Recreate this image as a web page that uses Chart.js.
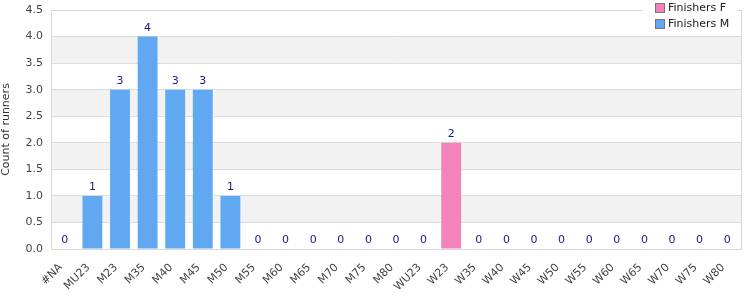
<!DOCTYPE html>
<html><head><meta charset="utf-8">
<script src="https://cdn.jsdelivr.net/npm/chart.js@4/dist/chart.umd.min.js"></script>
<style>html,body{margin:0;padding:0;background:#fff}#wrap{width:750px;height:300px}</style>
</head><body><div id="wrap"><canvas id="c" width="750" height="300"></canvas></div>
<script>
const categories = ['#NA','MU23','M23','M35','M40','M45','M50','M55','M60','M65','M70','M75','M80','WU23','W23','W35','W40','W45','W50','W55','W60','W65','W70','W75','W80'];
const finishersF = [0,0,0,0,0,0,0,0,0,0,0,0,0,0,2,0,0,0,0,0,0,0,0,0,0];
const finishersM = [0,1,3,4,3,3,1,0,0,0,0,0,0,0,0,0,0,0,0,0,0,0,0,0,0];
const yTicks = [0,0.5,1,1.5,2,2.5,3,3.5,4,4.5];
const FONT = 'DejaVu Sans, Verdana, sans-serif';

const bandsPlugin = {
  id: 'bands',
  beforeDraw(chart) {
    const {ctx, chartArea: a, scales: {y}} = chart;
    ctx.save();
    ctx.fillStyle = '#f2f2f2';
    for (let i = 0; i < yTicks.length - 1; i++) {
      if (i % 2 === 1) {
        const t = y.getPixelForValue(yTicks[i + 1]);
        const b = y.getPixelForValue(yTicks[i]);
        ctx.fillRect(a.left, t, a.right - a.left, b - t);
      }
    }
    ctx.restore();
  },
  afterDraw(chart) {
    const {ctx, chartArea: a} = chart;
    ctx.save();
    ctx.strokeStyle = '#d9d9d9';
    ctx.lineWidth = 1;
    ctx.beginPath();
    ctx.moveTo(Math.round(a.right) + 0.5, a.top);
    ctx.lineTo(Math.round(a.right) + 0.5, a.bottom);
    ctx.moveTo(a.left, Math.round(a.top) + 0.5);
    ctx.lineTo(a.right, Math.round(a.top) + 0.5);
    ctx.stroke();
    // legend
    const items = [...chart.data.datasets].reverse();
    ctx.fillStyle = '#fff';
    ctx.fillRect(643, 0, 94, 34);
    ctx.font = '11px ' + FONT;
    ctx.textBaseline = 'middle';
    items.forEach((ds, i) => {
      const yy = 8 + i * 16;
      ctx.fillStyle = ds.backgroundColor;
      ctx.fillRect(655.5, yy - 4.5, 9, 9);
      ctx.strokeStyle = '#777';
      ctx.strokeRect(655.5, yy - 4.5, 9, 9);
      ctx.fillStyle = '#222';
      ctx.fillText(ds.label, 668, yy);
    });
    ctx.restore();
  },
  afterDatasetsDraw(chart) {
    const {ctx, scales: {x, y}} = chart;
    ctx.save();
    ctx.font = '11px ' + FONT;
    ctx.fillStyle = '#1a1a88';
    ctx.textAlign = 'center';
    ctx.textBaseline = 'bottom';
    categories.forEach((c, i) => {
      const tot = finishersF[i] + finishersM[i];
      ctx.fillText(String(tot), x.getPixelForValue(i), y.getPixelForValue(tot) - 3);
    });
    ctx.restore();
  }
};

new Chart(document.getElementById('c'), {
  type: 'bar',
  data: {
    labels: categories,
    datasets: [
      {label: 'Finishers M', data: finishersM, backgroundColor: '#60a8f2', barPercentage: 0.72, categoryPercentage: 1},
      {label: 'Finishers F', data: finishersF, backgroundColor: '#f283bb', barPercentage: 0.72, categoryPercentage: 1}
    ]
  },
  options: {
    responsive: false,
    animation: false,
    layout: {padding: {left: 0, right: 9, top: 10, bottom: 0}},
    plugins: {legend: {display: false}, tooltip: {enabled: false}},
    scales: {
      x: {
        stacked: true,
        grid: {display: false, drawTicks: false},
        border: {color: '#d9d9d9'},
        ticks: {maxRotation: 45, minRotation: 45, autoSkip: false, color: '#444', font: {family: FONT, size: 11}, padding: 12, labelOffset: -4},
        afterFit(s) { s.height = 51; s.paddingLeft = 0; s.paddingRight = 0; }
      },
      y: {
        stacked: true,
        min: 0, max: 4.5,
        grid: {color: '#dcdcdc', drawTicks: false},
        border: {color: '#d9d9d9'},
        ticks: {stepSize: 0.5, color: '#444', font: {family: FONT, size: 11}, padding: 8, callback: v => v.toFixed(1)},
        title: {display: true, text: 'Count of runners', color: '#333', font: {family: FONT, size: 11}, padding: 0},
        afterFit(s) { s.width = 51; s.paddingTop = 0; s.paddingBottom = 0; }
      }
    }
  },
  plugins: [bandsPlugin]
});
</script></body></html>
